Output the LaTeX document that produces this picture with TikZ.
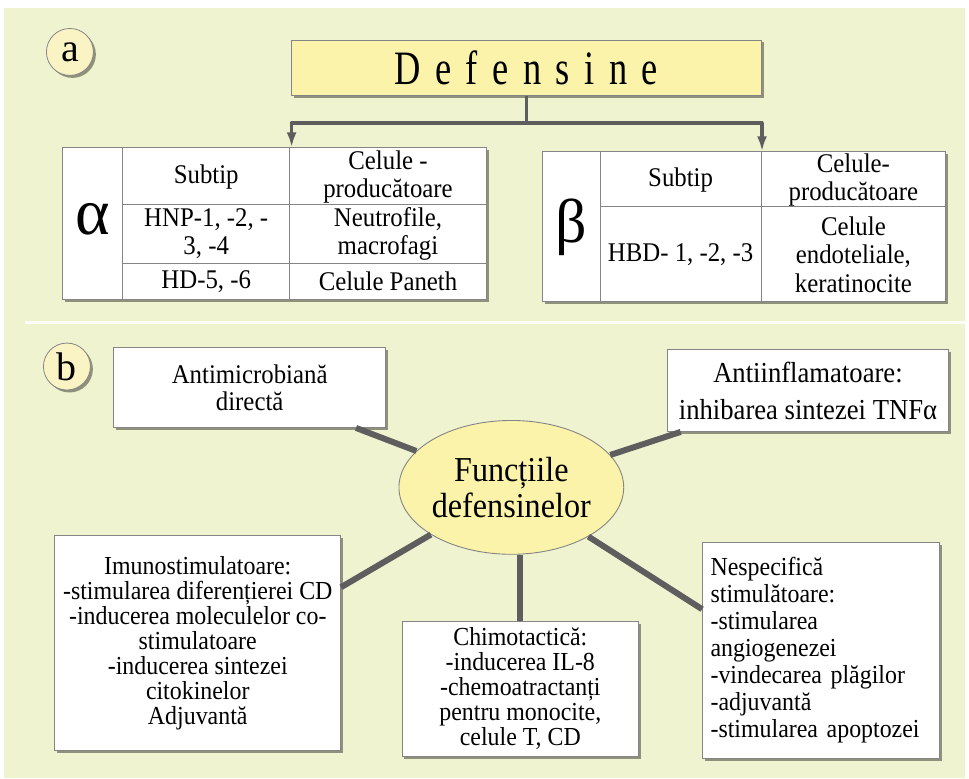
\documentclass[tikz,border=0pt]{standalone}
\usepackage{fontspec}
\setmainfont{Liberation Serif}
\newfontfamily\cond{Liberation Serif}[FakeStretch=0.92]
\newfontfamily\defn{Liberation Serif}[FakeStretch=0.76]
\usetikzlibrary{shadows,arrows.meta,shapes.geometric,calc}
\definecolor{bg}{HTML}{EFF3CF}
\definecolor{ylw}{HTML}{FBF3AA}
\definecolor{ylwc}{HTML}{FAF4C4}
\definecolor{lnk}{HTML}{5E5E5E}
\definecolor{bord}{HTML}{858585}
\newcommand{\hsp}{\hspace{14.5pt}}
\begin{document}
\begin{tikzpicture}[x=1pt,y=-1pt,
  shad/.style={drop shadow={shadow xshift=2.5pt,shadow yshift=-2.5pt,fill=black,opacity=0.4}},
  box/.style={draw=bord,line width=0.9pt,fill=white,shad,inner sep=0pt,align=center,
              font=\cond\fontsize{26}{25}\selectfont},
  tbl/.style={draw=bord,line width=1pt,fill=white,shad,inner sep=0pt},
  grid/.style={draw=bord,line width=1pt},
  cell/.style={align=center,inner sep=0pt,font=\cond\fontsize{27}{28.5}\selectfont},
  letter/.style={circle,draw=bord,line width=0.8pt,fill=ylwc,shad,minimum size=47pt,inner sep=0pt,
                 font=\fontsize{40}{40}\selectfont},
  link/.style={draw=lnk,line width=6pt},
  toplink/.style={draw=lnk,line width=3.5pt},
  arr/.style={draw=lnk,line width=3.5pt,-{Latex[length=15pt,width=10pt]}}
]
% background
\fill[white] (0,0) rectangle (969,780);
\fill[bg] (4,8) rectangle (966,779);
\draw[white,opacity=0.8,line width=2.5pt] (25,323) -- (969,323);

% ---------- part a ----------
\node[letter] (la) at (70,52) {a};
\node[draw=bord,line width=0.9pt,fill=ylw,shad,minimum width=470pt,minimum height=56pt,inner sep=0pt,
      font=\defn\fontsize{48}{48}\selectfont] (def) at (527,68)
  {D\hsp e\hsp f\hsp e\hsp n\hsp s\hsp i\hsp n\hsp e};

% alpha table
\node[tbl,minimum width=424pt,minimum height=152pt] (alpha) at (275,224) {};
\draw[grid] (123,148) -- (123,300);
\draw[grid] (290,148) -- (290,300);
\draw[grid] (123,205) -- (487,205);
\draw[grid] (123,264) -- (487,264);
\node[inner sep=0pt,font=\fontsize{66}{66}\selectfont] (asym) at (93,220) {α};
\node[cell] (a11) at (206.5,177) {Subtip};
\node[cell] (a12) at (388.5,177) {Celule -\\producătoare};
\node[cell] (a21) at (206.5,234) {HNP-1, -2, -\\3, -4};
\node[cell] (a22) at (388.5,234) {Neutrofile,\\macrofagi};
\node[cell] (a31) at (206.5,282) {HD-5, -6};
\node[cell] (a32) at (388.5,282) {Celule Paneth};

% beta table
\node[tbl,minimum width=404pt,minimum height=150pt] (beta) at (745,227) {};
\draw[grid] (601,152) -- (601,302);
\draw[grid] (762,152) -- (762,302);
\draw[grid] (601,207) -- (947,207);
\node[inner sep=0pt,font=\fontsize{62}{62}\selectfont] (bsym) at (572,228) {β};
\node[cell] (b11) at (681.5,180) {Subtip};
\node[cell] (b12) at (854.5,180) {Celule-\\producătoare};
\node[cell] (b21) at (681.5,255) {HBD- 1, -2, -3};
\node[cell] (b22) at (854.5,255) {Celule\\endoteliale,\\keratinocite};

% connectors of part a
\coordinate (jn) at (527,123);
\coordinate (jl) at (292,123);
\coordinate (jr) at (763,123);
\draw[toplink] (def.south) -- (jn);
\draw[toplink,line cap=round] (jl) -- (jr);
\draw[arr] (jl) -- (jl |- alpha.north);
\draw[arr] (jr) -- (jr |- beta.north);

% ---------- part b ----------
\node[letter] (lb) at (67,367) {b};

\node[box,minimum width=272pt,minimum height=80pt,font=\cond\fontsize{27}{27}\selectfont] (amb) at (250,388) {Antimicrobiană\\directă};
\node[box,minimum width=282pt,minimum height=82pt,font=\cond\fontsize{29}{29}\selectfont] (ainf) at (809,391)
  {Antiinflamatoare:\\[8pt]inhibarea sintezei TNFα};
\node[box,minimum width=286pt,minimum height=215pt] (imu) at (198,644)
  {Imunostimulatoare:\\-stimularea diferențierei CD\\-inducerea moleculelor co-\\stimulatoare\\-inducerea sintezei\\citokinelor\\Adjuvantă};
\node[box,minimum width=237pt,minimum height=135pt] (chi) at (521,689.5)
  {Chimotactică:\\-inducerea IL-8\\-chemoatractanți\\pentru monocite,\\celule T, CD};
\node[box,minimum width=237pt,minimum height=216pt,align=left,text width=221pt,
      font=\cond\fontsize{26}{27}\selectfont] (nsp) at (822,651)
  {Nespecifică\\stimulătoare:\\-stimularea\\angiogenezei\\-vindecarea plăgilor\\-adjuvantă\\-stimularea apoptozei};

\node[draw=bord,line width=0.9pt,fill=ylw,ellipse,minimum width=206pt,minimum height=134pt,inner sep=0pt,
      align=center,font=\cond\fontsize{35}{36}\selectfont] (fn) at (512,488) {Funcțiile\\defensinelor};

% connectors of part b
\draw[link] (fn) -- ([xshift=-30pt]amb.south east);
\draw[link] (fn) -- ([xshift=14pt]ainf.south west);
\draw[link] (fn) -- ([yshift=56pt]imu.east);
\draw[link] (fn.south -| chi.north) -- (chi.north);
\draw[link] (fn) -- ([yshift=41pt]nsp.west);
\end{tikzpicture}
\end{document}
